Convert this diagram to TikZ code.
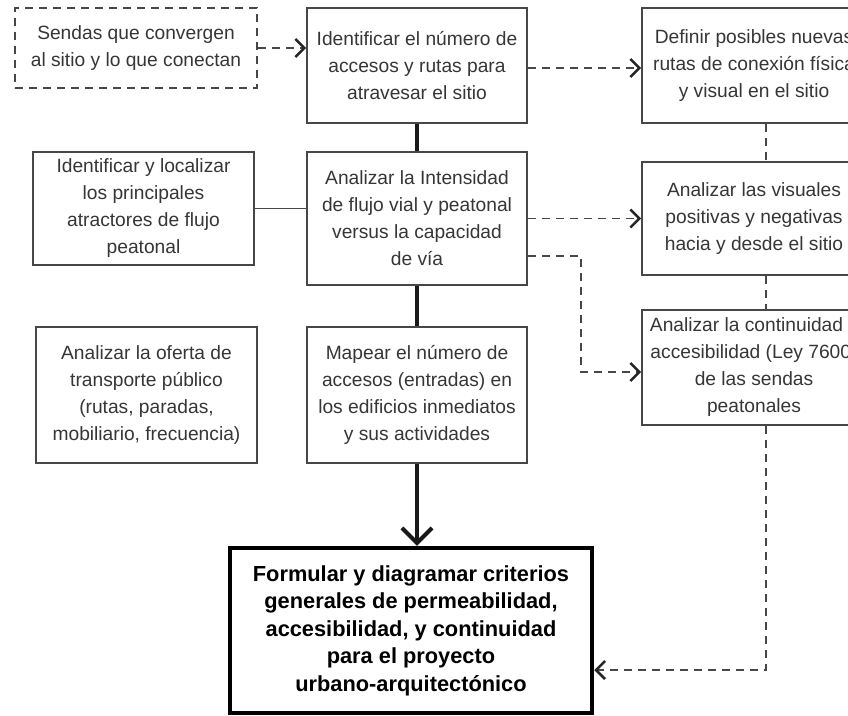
\documentclass[tikz,border=0pt]{standalone}
\usepackage{fontspec}
\setmainfont{Liberation Sans}
\usetikzlibrary{arrows.meta,calc}
\definecolor{txt}{HTML}{363636}
\definecolor{edge}{HTML}{474747}
\begin{document}
\begin{tikzpicture}[x=1pt,y=-1pt,
  box/.style={draw=edge,line width=1.6pt,rectangle,inner sep=0pt,align=center,text=txt,
    font=\fontsize{19.2}{27}\selectfont},
  dbox/.style={box,dash pattern=on 8pt off 6pt},
  thinline/.style={draw=edge,line width=1.6pt},
  dline/.style={draw=edge,line width=1.8pt,dash pattern=on 8pt off 6pt},
  darr/.style={dline,-{Straight Barb[length=9pt,width=18pt,line width=2.6pt,color=black!85]}},
  thickline/.style={draw=black!90,line width=4pt},
  thickarr/.style={thickline,-{Straight Barb[length=15pt,width=30pt,line width=4pt]}}
]
\useasboundingbox (0,0) rectangle (848,715);
\fill[white] (0,0) rectangle (848,715);
\clip (0,0) rectangle (848,715);

% nodes
\node[dbox,minimum width=242pt,minimum height=80pt] (sendas) at (136,48)
  {Sendas que convergen\\al sitio y lo que conectan};
\node[box,minimum width=220pt,minimum height=115pt] (ident) at (417,65.5)
  {Identificar el número de\\accesos y rutas para\\atravesar el sitio};
\node[box,minimum width=224pt,minimum height=115pt] (definir) at (754,65.5)
  {Definir posibles nuevas\\rutas de conexión física\\y visual en el sitio};
\node[box,minimum width=221pt,minimum height=113pt] (localizar) at (143.5,208.5)
  {Identificar y localizar\\los principales\\atractores de flujo\\peatonal};
\node[box,minimum width=220pt,minimum height=133pt] (intens) at (417,218.5)
  {Analizar la Intensidad\\de flujo vial y peatonal\\versus la capacidad\\de vía};
\node[box,minimum width=224pt,minimum height=113pt] (visuales) at (754,218.5)
  {Analizar las visuales\\positivas y negativas\\hacia y desde el sitio};
\node[box,minimum width=221pt,minimum height=136pt] (oferta) at (146.5,395)
  {Analizar la oferta de\\transporte público\\(rutas, paradas,\\mobiliario, frecuencia)};
\node[box,minimum width=220pt,minimum height=136pt] (mapear) at (417,395)
  {Mapear el número de\\accesos (entradas) en\\los edificios inmediatos\\y sus actividades};
\node[box,minimum width=224pt,minimum height=115pt] (contin) at (754,367.5)
  {Analizar la continuidad y\\accesibilidad (Ley 7600)\\de las sendas\\peatonales};
\node[box,draw=black,line width=4.5pt,text=black,minimum width=362pt,minimum height=165pt,
  font=\bfseries\fontsize{21.8}{27.5}\selectfont] (final) at (411,630.5)
  {Formular y diagramar criterios\\generales de permeabilidad,\\accesibilidad, y continuidad\\para el proyecto\\urbano-arquitectónico};

% thick main spine
\draw[thickline] (ident.south) -- (intens.north);
\draw[thickline] (intens.south) -- (mapear.north);
\draw[thickarr] (mapear.south) -- (mapear.south |- final.north);

% left connections
\draw[thinline] (localizar.east) -- (localizar.east -| intens.west);
\draw[thinline] ($(localizar.south)+(11.5,0)$) -- ($(localizar.south)+(11.5,0)$ |- oferta.north);

% dashed arrows
\draw[darr] (sendas.east) -- (sendas.east -| ident.west);
\draw[darr] ($(ident.east)+(0,2.5)$) -- ($(definir.west)+(0,2.5)$);
\draw[darr] (intens.east) -- (visuales.west);
\coordinate (bend) at ($(intens.east)+(53,37.5)$);
\draw[darr] ($(intens.east)+(0,37.5)$) -- (bend) |- ($(contin.west)+(0,4.5)$);

% right dashed spine
\draw[dline] ($(definir.south)+(12,0)$) -- ($(visuales.north)+(12,0)$);
\draw[dline] ($(visuales.south)+(12,0)$) -- ($(contin.north)+(12,0)$);
\draw[darr] ($(contin.south)+(12,0)$) |- ($(final.east)+(0,39.5)$);
\end{tikzpicture}
\end{document}
